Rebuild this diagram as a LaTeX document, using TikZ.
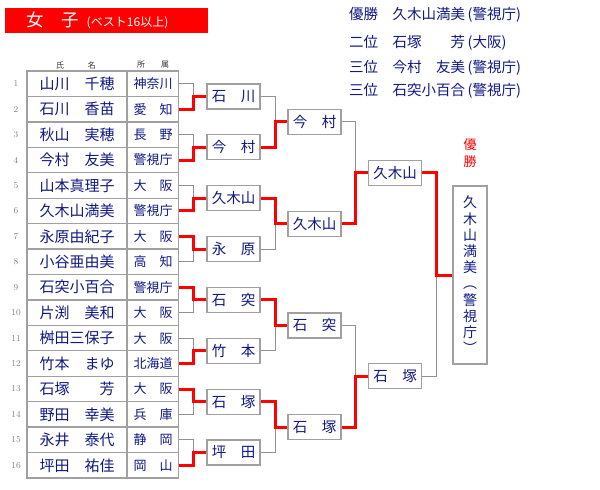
\documentclass[tikz,border=0pt]{standalone}
\usepackage{fontspec}
\usepackage{tikz}
\usetikzlibrary{calc}
\newfontfamily\jp{Noto Sans CJK JP}
\definecolor{inkblue}{RGB}{16,24,128}
\definecolor{boxgray}{RGB}{160,160,160}
\definecolor{linegray}{RGB}{145,145,145}
\definecolor{titlered}{RGB}{255,0,0}

\begin{document}
\begin{tikzpicture}[x=1pt,y=-1pt,
  namebox/.style={draw=boxgray,line width=1.3pt,minimum width=100pt,minimum height=25.4pt,inner sep=0pt,text=inkblue,font=\jp\fontsize{15}{15}\selectfont},
  prefbox/.style={namebox,minimum width=51pt,font=\jp\fontsize{13}{13}\selectfont},
  winbox/.style={draw=boxgray,line width=1.3pt,minimum width=53pt,minimum height=25pt,inner sep=0pt,fill=white,text=inkblue,font=\jp\fontsize{14.5}{14.5}\selectfont},
  seed/.style={text=gray,font=\fontsize{9}{9}\selectfont},
  head/.style={text=black!80,font=\jp\fontsize{8}{8}\selectfont},
  result/.style={anchor=west,inner sep=0pt,text=inkblue,font=\jp\fontsize{14.5}{14.5}\selectfont},
  lose/.style={draw=linegray,line width=1pt},
  win/.style={draw=red,line width=3pt}]
  \useasboundingbox (0,0) rectangle (600,490);
  % Title
  \fill[titlered] (5,8) rectangle (208,33);
  \node[anchor=west,inner sep=0pt,text=white] (title) at (26,20.5)
    {{\jp\fontsize{17.5}{17.5}\selectfont 女　子}\hspace{8pt}{\jp\fontsize{12}{12}\selectfont (ベスト16以上)}};
  % Results
  \node[result] (res1) at (349,15.3) {優勝　久木山満美\,(警視庁)};
  \node[result] (res2) at (349,42.7) {二位　石塚　　芳\,(大阪)};
  \node[result] (res3) at (349,67.7) {三位　今村　友美\,(警視庁)};
  \node[result] (res4) at (349,90.7) {三位　石突小百合\,(警視庁)};
  % Table head
  \node[head] (hname) at (76,65) {氏　　　名};
  \node[head] (hpref) at (153,65) {所　　属};
  % Entries
  \node[seed] (no1) at (16,83.7) {1};   \node[namebox] (n1) at (77,83.7) {山川　千穂};   \node[prefbox] (a1) at (153,83.7) {神奈川};
  \node[seed] (no2) at (16,109.2) {2};  \node[namebox] (n2) at (77,109.2) {石川　香苗};  \node[prefbox] (a2) at (153,109.2) {愛　知};
  \node[seed] (no3) at (16,134.6) {3};  \node[namebox] (n3) at (77,134.6) {秋山　実穂};  \node[prefbox] (a3) at (153,134.6) {長　野};
  \node[seed] (no4) at (16,160.0) {4};  \node[namebox] (n4) at (77,160.0) {今村　友美};  \node[prefbox] (a4) at (153,160.0) {警視庁};
  \node[seed] (no5) at (16,185.5) {5};  \node[namebox] (n5) at (77,185.5) {山本真理子};  \node[prefbox] (a5) at (153,185.5) {大　阪};
  \node[seed] (no6) at (16,210.9) {6};  \node[namebox] (n6) at (77,210.9) {久木山満美};  \node[prefbox] (a6) at (153,210.9) {警視庁};
  \node[seed] (no7) at (16,236.4) {7};  \node[namebox] (n7) at (77,236.4) {永原由紀子};  \node[prefbox] (a7) at (153,236.4) {大　阪};
  \node[seed] (no8) at (16,261.8) {8};  \node[namebox] (n8) at (77,261.8) {小谷亜由美};  \node[prefbox] (a8) at (153,261.8) {高　知};
  \node[seed] (no9) at (16,287.2) {9};  \node[namebox] (n9) at (77,287.2) {石突小百合};  \node[prefbox] (a9) at (153,287.2) {警視庁};
  \node[seed] (no10) at (16,312.7) {10}; \node[namebox] (n10) at (77,312.7) {片渕　美和}; \node[prefbox] (a10) at (153,312.7) {大　阪};
  \node[seed] (no11) at (16,338.1) {11}; \node[namebox] (n11) at (77,338.1) {桝田三保子}; \node[prefbox] (a11) at (153,338.1) {大　阪};
  \node[seed] (no12) at (16,363.5) {12}; \node[namebox] (n12) at (77,363.5) {竹本　まゆ}; \node[prefbox] (a12) at (153,363.5) {北海道};
  \node[seed] (no13) at (16,389.0) {13}; \node[namebox] (n13) at (77,389.0) {石塚　　芳}; \node[prefbox] (a13) at (153,389.0) {大　阪};
  \node[seed] (no14) at (16,414.4) {14}; \node[namebox] (n14) at (77,414.4) {野田　幸美}; \node[prefbox] (a14) at (153,414.4) {兵　庫};
  \node[seed] (no15) at (16,439.8) {15}; \node[namebox] (n15) at (77,439.8) {永井　泰代}; \node[prefbox] (a15) at (153,439.8) {静　岡};
  \node[seed] (no16) at (16,465.3) {16}; \node[namebox] (n16) at (77,465.3) {坪田　祐佳}; \node[prefbox] (a16) at (153,465.3) {岡　山};
  % Round 1 winners
  \node[winbox] (r1) at (233.5,96.45) {石　川};
  \node[winbox] (r2) at (233.5,147.3) {今　村};
  \node[winbox] (r3) at (233.5,198.2) {久木山};
  \node[winbox] (r4) at (233.5,249.1) {永　原};
  \node[winbox] (r5) at (233.5,299.95) {石　突};
  \node[winbox] (r6) at (233.5,350.8) {竹　本};
  \node[winbox] (r7) at (233.5,401.7) {石　塚};
  \node[winbox] (r8) at (233.5,452.55) {坪　田};
  % Round 2 winners
  \node[winbox] (q1) at (314.5,121.9) {今　村};
  \node[winbox] (q2) at (314.5,223.65) {久木山};
  \node[winbox] (q3) at (314.5,325.4) {石　突};
  \node[winbox] (q4) at (314.5,427.1) {石　塚};
  % Semi-final winners
  \node[winbox] (s1) at (395,172.8) {久木山};
  \node[winbox] (s2) at (395,376.25) {石　塚};
  % Champion
  \node[text=red,align=center,inner sep=0pt,font=\jp\fontsize{13}{17}\selectfont] (vlabel) at (470,153) {優\\勝};
  \node[draw=boxgray,line width=1.3pt,minimum width=34pt,minimum height=178pt,inner sep=0pt,
    text=inkblue,align=center,font=\jp\fontsize{14}{16.2}\selectfont] (w) at (470,275)
    {久\\木\\山\\満\\美\\︵\\警\\視\\庁\\︶};
  % Junctions
  \foreach \r in {1,...,8} \coordinate (j\r) at ([xshift=-12.5pt]r\r.west);
  \foreach \q in {1,...,4} \coordinate (k\q) at ([xshift=-12pt]q\q.west);
  \coordinate (m1) at ([xshift=-12pt]s1.west);
  \coordinate (m2) at ([xshift=-12pt]s2.west);
  \coordinate (f) at ([xshift=-16pt]w.west);
  % Round 1 lines
  \draw[lose] (a1.east) -| (j1);  \draw[win] (a2.east) -| (j1) -- (r1.west);
  \draw[lose] (a3.east) -| (j2);  \draw[win] (a4.east) -| (j2) -- (r2.west);
  \draw[lose] (a5.east) -| (j3);  \draw[win] (a6.east) -| (j3) -- (r3.west);
  \draw[lose] (a8.east) -| (j4);  \draw[win] (a7.east) -| (j4) -- (r4.west);
  \draw[lose] (a10.east) -| (j5); \draw[win] (a9.east) -| (j5) -- (r5.west);
  \draw[lose] (a11.east) -| (j6); \draw[win] (a12.east) -| (j6) -- (r6.west);
  \draw[lose] (a14.east) -| (j7); \draw[win] (a13.east) -| (j7) -- (r7.west);
  \draw[lose] (a15.east) -| (j8); \draw[win] (a16.east) -| (j8) -- (r8.west);
  % Round 2 lines
  \draw[lose] (r1.east) -| (k1); \draw[win] (r2.east) -| (k1) -- (q1.west);
  \draw[lose] (r4.east) -| (k2); \draw[win] (r3.east) -| (k2) -- (q2.west);
  \draw[lose] (r6.east) -| (k3); \draw[win] (r5.east) -| (k3) -- (q3.west);
  \draw[lose] (r8.east) -| (k4); \draw[win] (r7.east) -| (k4) -- (q4.west);
  % Semi-final lines
  \draw[lose] (q1.east) -| (m1); \draw[win] (q2.east) -| (m1) -- (s1.west);
  \draw[lose] (q3.east) -| (m2); \draw[win] (q4.east) -| (m2) -- (s2.west);
  % Final
  \draw[lose] (s2.east) -| (f); \draw[win] (s1.east) -| (f) -- (w.west);
\end{tikzpicture}
\end{document}
